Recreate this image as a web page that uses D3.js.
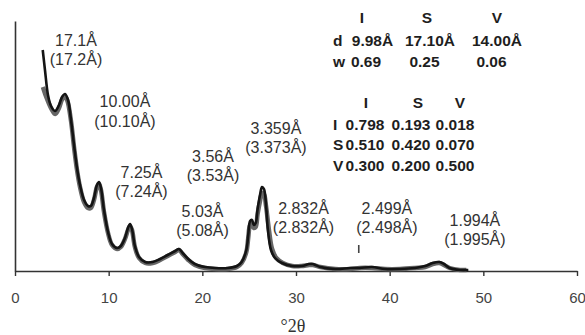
<!DOCTYPE html>
<html><head><meta charset="utf-8">
<script src="https://cdn.jsdelivr.net/npm/d3@7"></script>
<style>
html,body{margin:0;padding:0;background:#fff;}
svg{display:block;}
</style></head>
<body>
<svg id="chart" width="585" height="335"></svg>
<script>
// ---------- data ----------
const twoTheta1 = [2.96,3.2,3.52,3.84,4.27,4.7,5.02,5.34,5.66,5.98,6.3,6.62,6.94,7.37,7.8,8.1,8.43,8.75,8.97,9.18,9.5,9.93,10.36,10.9,11.3,11.74,12.06,12.28,12.49,12.8,13.24,13.9,14.7,15.5,16.3,17.1,17.5,17.9,18.5,19.2,20.3,21.35,22.7,23.7,24.2,24.7,24.9,25.1,25.3,25.5,25.7,25.9,26.16,26.37,26.58,26.8,27.0,27.33,27.76,28.5,29.6,30.6,31.4,31.8,32.6,34.2,35.8,36.8,38.1,39.5,41.1,42.7,43.8,44.6,45.3,45.8,46.4,47.5,48.4];
const intensity1 = [221,201,176,165,160,166,174,177,171,151,126,103,86,71,65,65,73,86,89,83,61,39,27,23,25,33,43,47,42,25,14,9,9,12,16,20,22,18,12,7,4,3,3,5,9,21,36,50,51,46,48,62,76,84,82,66,41,21,13,8,5,5,7,7,4,2,3,3,4,2,2,3,5,8,9,7,3,1,1];
const twoTheta2 = [2.98,3.3,3.6,3.9,4.3,4.7,5.0,5.3,5.6,5.98,6.3,6.62,6.94,7.37,7.8,8.1,8.43,8.75,8.97,9.18,9.5,9.93,10.36,10.9,11.3,11.74,12.06,12.28,12.49,12.8,13.24,13.9,14.7,15.5,16.3,17.1,17.5,17.9,18.5,19.2,20.3,21.35,22.7,23.7,24.2,24.7,24.9,25.1,25.3,25.5,25.7,25.9,26.16,26.37,26.58,26.8,27.1,27.45,27.9,28.6,29.6,30.6,31.4,31.8,32.6,34.2,35.8,36.8,38.1,39.5,41.1,42.7,43.8,44.6,45.3,45.8,46.4,47.5,48.2];
const intensity2 = [184,175,168,162,157,163,171,175,170,150,124,101,84,69,63,63,71,84,87,81,59,38,26,22,24,32,41,45,41,24,13,8,8,11,15,19,21,17,11,6,3,2,2,4,8,19,33,46,47,43,44,57,70,78,77,65,42,22,13,8,5,5,6,6,4,2,2,3,3,2,2,3,4,7,8,6,3,1,1];

const xTicks = [0,10,20,30,40,50,60];
const xTitle = "°2θ";

// peak annotations: observed d (top) and reference d (bottom), anchored in data units
const annTop    = ["17.1Å","10.00Å","7.25Å","3.56Å","5.03Å","3.359Å","2.832Å","2.499Å","1.994Å"];
const annBottom = ["(17.2Å)","(10.10Å)","(7.24Å)","(3.53Å)","(5.08Å)","(3.373Å)","(2.832Å)","(2.498Å)","(1.995Å)"];
const annAt2T   = [6.51,11.74,13.5,21.14,20.02,27.86,30.8,39.71,49.1];
const annAtI    = [231,169.5,99,115,60,143,63,63,51];

const markerAt2T = [36.7];
const markerAtI  = [22];

// composition tables
const table1Header = ["I","S","V"];
const table1Rows = [["d","9.98Å","17.10Å","14.00Å"],["w","0.69","0.25","0.06"]];
const table2Header = ["I","S","V"];
const table2Rows = [["I","0.798","0.193","0.018"],["S","0.510","0.420","0.070"],["V","0.300","0.200","0.500"]];

// ---------- drawing ----------
const svg = d3.select("#chart");
const x = d3.scaleLinear().domain([0,60]).range([15,577]);
const y = d3.scaleLinear().domain([0,250]).range([271,21]);

const sans = "'Liberation Sans', Arial, Helvetica, sans-serif";

// axes
const gx = svg.append("g").attr("transform","translate(0,271)")
  .call(d3.axisBottom(x).tickValues(xTicks).tickSize(5).tickSizeOuter(0).tickPadding(16).tickFormat(d3.format("d")));
gx.select(".domain").attr("stroke","#333").attr("stroke-width",1.6);
gx.selectAll(".tick line").attr("stroke","#333").attr("stroke-width",1.4);
gx.selectAll(".tick text").attr("font-family",sans).attr("font-size",15).attr("fill","#444");

const gy = svg.append("g").attr("transform","translate(15,0)")
  .call(d3.axisLeft(y).tickValues([]).tickSizeOuter(0));
gy.select(".domain").attr("stroke","#333").attr("stroke-width",1.6);

svg.append("text").attr("x",293).attr("y",326).attr("dy","0.35em")
  .attr("text-anchor","middle").attr("font-family","'Liberation Serif','Times New Roman',serif")
  .attr("font-size",18).attr("fill","#333").text(xTitle);

// curves
const line = d3.line().x(d=>x(d[0])).y(d=>y(d[1])).curve(d3.curveCatmullRom.alpha(0.5));
const s2 = twoTheta2.map((t,i)=>[t,intensity2[i]]);
const s1 = twoTheta1.map((t,i)=>[t,intensity1[i]]);
svg.append("path").datum(s2).attr("d",line).attr("fill","none")
  .attr("stroke","#666").attr("stroke-width",4.5).attr("stroke-linejoin","round");
svg.append("path").datum(s1).attr("d",line).attr("fill","none")
  .attr("stroke","#141414").attr("stroke-width",2.6).attr("stroke-linejoin","round");

// marker
svg.selectAll(".mk").data(markerAt2T).enter().append("line")
  .attr("x1",d=>x(d)).attr("x2",d=>x(d))
  .attr("y1",(d,i)=>y(markerAtI[i])-4).attr("y2",(d,i)=>y(markerAtI[i])+4)
  .attr("stroke","#444").attr("stroke-width",1.6);

// annotations
const ann = svg.append("g").attr("font-family",sans).attr("font-size",16).attr("fill","#333").attr("text-anchor","middle");
annTop.forEach((t,i)=>{
  ann.append("text").attr("x",x(annAt2T[i])).attr("y",y(annAtI[i])).attr("dy","0.35em").text(t);
  ann.append("text").attr("x",x(annAt2T[i])).attr("y",y(annAtI[i])+19.5).attr("dy","0.35em").text(annBottom[i]);
});

// tables
const tb = svg.append("g").attr("font-family",sans).attr("font-size",15.5).attr("font-weight","bold").attr("fill","#1e1e1e");
const t1Cols = [362,427,497];
const t1ValCols = [372.5,430,497];
table1Header.forEach((h,i)=>tb.append("text").attr("x",t1Cols[i]).attr("y",18).attr("dy","0.35em").attr("text-anchor","middle").text(h));
const t1RowY = [41,62];
const t1ValColsW = [366,424.5,491.5];
table1Rows.forEach((r,ri)=>{
  tb.append("text").attr("x",333).attr("y",t1RowY[ri]).attr("dy","0.35em").text(r[0]);
  r.slice(1).forEach((v,ci)=>{
    const cx = ri===0 ? t1ValCols[ci] : t1ValColsW[ci];
    tb.append("text").attr("x",cx).attr("y",t1RowY[ri]).attr("dy","0.35em").attr("text-anchor","middle").text(v);
  });
});
const t2Cols = [366,418,460];
table2Header.forEach((h,i)=>tb.append("text").attr("x",t2Cols[i]).attr("y",103).attr("dy","0.35em").attr("text-anchor","middle").text(h));
const t2RowY = [124.5,145,165.5];
const t2ValCols = [365,411,455];
table2Rows.forEach((r,ri)=>{
  tb.append("text").attr("x",333).attr("y",t2RowY[ri]).attr("dy","0.35em").text(r[0]);
  r.slice(1).forEach((v,ci)=>{
    tb.append("text").attr("x",t2ValCols[ci]).attr("y",t2RowY[ri]).attr("dy","0.35em").attr("text-anchor","middle").text(v);
  });
});
</script>
</body></html>
